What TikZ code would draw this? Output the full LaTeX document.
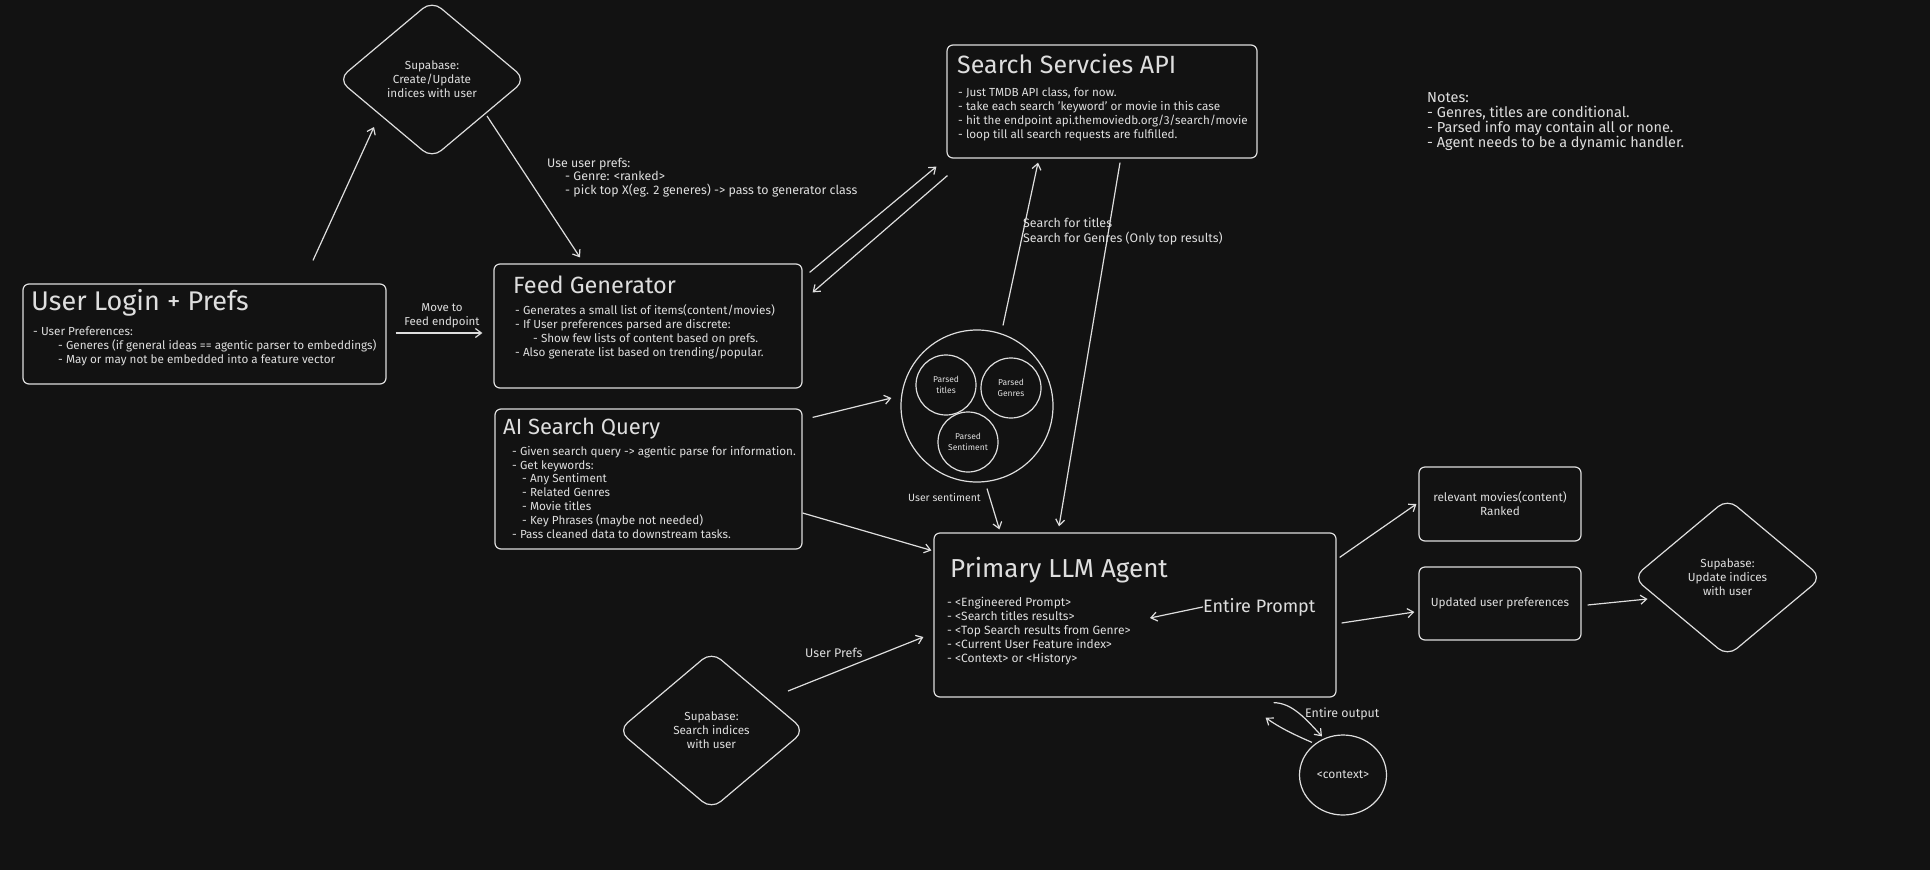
\documentclass[tikz,border=0pt]{standalone}
\usepackage{fontspec}
\setmainfont{Fira Sans}
\usetikzlibrary{arrows.meta,shapes.geometric}

\definecolor{bgdark}{RGB}{18,18,18}
\definecolor{chalk}{RGB}{222,222,222}

\tikzset{
    box/.style={draw=chalk, line width=1.2pt, rounded corners=6pt, inner sep=0pt},
    dbase/.style={diamond, draw=chalk, line width=1.2pt, rounded corners=12pt, inner sep=0pt,
        align=center, text=chalk, font=\fontsize{11.7}{14}\selectfont},
    ring/.style={circle, draw=chalk, line width=1.2pt, inner sep=0pt, align=center, text=chalk},
    ttl/.style={font=\fontsize{24}{28}\selectfont, text=chalk, anchor=base west, inner sep=0pt},
    body/.style={font=\fontsize{11.7}{13.8}\selectfont, text=chalk, align=left, anchor=base west, inner sep=0pt},
    lbl/.style={font=\fontsize{11.5}{14}\selectfont, text=chalk, align=left, anchor=base west, inner sep=0pt},
    arr/.style={draw=chalk, line width=1.2pt, -{Straight Barb[length=6pt,width=9pt]}},
}

\begin{document}
\begin{tikzpicture}[x=1pt, y=-1pt]
    \fill[bgdark] (0,0) rectangle (1930,870);
    \useasboundingbox (0,0) rectangle (1930,870);

    % boxes
    \node[box, minimum width=363pt, minimum height=100pt] (login) at (204.5,334) {};
    \node[box, minimum width=308pt, minimum height=124pt] (feed) at (648,326) {};
    \node[box, minimum width=307pt, minimum height=140pt] (ai) at (648.5,479) {};
    \node[box, minimum width=310pt, minimum height=113pt] (search) at (1102,101.5) {};
    \node[box, minimum width=402pt, minimum height=164pt] (llm) at (1135,615) {};
    \node[box, minimum width=162pt, minimum height=74pt, align=center, text=chalk,
        font=\fontsize{11.8}{14}\selectfont] (relevant) at (1500,504) {relevant movies(content)\\Ranked};
    \node[box, minimum width=162pt, minimum height=73pt, text=chalk,
        font=\fontsize{11.8}{14}\selectfont] (updated) at (1500,603.5) {Updated user preferences};

    % diamonds
    \node[dbase, minimum width=188pt, minimum height=158pt] (supaTop) at (432,79.5) {Supabase:\\Create/Update\\indices with user};
    \node[dbase, minimum width=187pt, minimum height=158pt] (supaSearch) at (711.5,730.5) {Supabase:\\Search indices\\with user};
    \node[dbase, minimum width=189pt, minimum height=158pt] (supaUpdate) at (1727.5,577.5) {Supabase:\\Update indices\\with user};

    % parsed keywords
    \node[ring, minimum size=152pt] (parsed) at (977,406) {};
    \node[ring, minimum size=60pt, font=\fontsize{8.5}{10.5}\selectfont] (ptitles) at (946,385) {Parsed\\titles};
    \node[ring, minimum size=60pt, font=\fontsize{8.5}{10.5}\selectfont] (pgenres) at (1011,388) {Parsed\\Genres};
    \node[ring, minimum size=60pt, font=\fontsize{8.5}{10.5}\selectfont] (psent) at (968,442) {Parsed\\Sentiment};
    \node[ellipse, draw=chalk, line width=1.2pt, minimum width=87pt, minimum height=80pt,
        text=chalk, font=\fontsize{12}{14}\selectfont] (context) at (1343,775) {<context>};

    % Below nodes are the box texts (anchored on their last line).
        \node[ttl, font=\fontsize{27}{30}\selectfont] (loginT) at (31,310) {User Login + Prefs};
        \node[body] (loginB) at (33,363) {- User Preferences:\\
            \hspace*{25pt}- Generes (if general ideas == agentic parser to embeddings)\\
            \hspace*{25pt}- May or may not be embedded into a feature vector};
        \node[ttl, font=\fontsize{23.5}{28}\selectfont] (feedT) at (513,293) {Feed Generator};
        \node[body] (feedB) at (515,356) {- Generates a small list of items(content/movies)\\
            - If User preferences parsed are discrete:\\
            \hspace*{18pt}- Show few lists of content based on prefs.\\
            - Also generate list based on trending/popular.};
        \node[ttl, font=\fontsize{22}{26}\selectfont] (aiT) at (503,434) {AI Search Query};
        \node[body] (aiB) at (512,538) {- Given search query -> agentic parse for information.\\
            - Get keywords:\\
            \hspace*{10pt}- Any Sentiment\\
            \hspace*{10pt}- Related Genres\\
            \hspace*{10pt}- Movie titles\\
            \hspace*{10pt}- Key Phrases (maybe not needed)\\
            - Pass cleaned data to downstream tasks.};
        \node[ttl, font=\fontsize{25}{29}\selectfont] (searchT) at (957,73) {Search Servcies API};
        \node[body] (searchB) at (958,138) {- Just TMDB API class, for now.\\
            - take each search 'keyword' or movie in this case\\
            - hit the endpoint api.themoviedb.org/3/search/movie\\
            - loop till all search requests are fulfilled.};
        \node[ttl, font=\fontsize{26}{30}\selectfont] (llmT) at (950,577) {Primary LLM Agent};
        \node[body, font=\fontsize{12}{14}\selectfont] (llmB) at (947,662) {- <Engineered Prompt>\\
            - <Search titles results>\\
            - <Top Search results from Genre>\\
            - <Current User Feature index>\\
            - <Context> or <History>};
        \node[body, font=\fontsize{14.5}{14.7}\selectfont] (notes) at (1427,147) {Notes:\\
            - Genres, titles are conditional.\\
            - Parsed info may contain all or none.\\
            - Agent needs to be a dynamic handler.};

    % Below nodes are the connector labels.
        \node[lbl, align=center, anchor=base] (moveL) at (442,325) {Move to\\Feed endpoint};
        \node[lbl, font=\fontsize{12.4}{13.5}\selectfont] (prefsL) at (547,194) {Use user prefs:\\
            \hspace*{18pt}- Genre: <ranked>\\
            \hspace*{18pt}- pick top X(eg. 2 generes) -> pass to generator class};
        \node[lbl, font=\fontsize{12.4}{15}\selectfont] (searchL) at (1023,242) {Search for titles\\Search for Genres (Only top results)};
        \node[lbl, font=\fontsize{10.5}{14}\selectfont] (sentL) at (908,501) {User sentiment};
        \node[lbl, font=\fontsize{12.5}{14}\selectfont] (uprefsL) at (805,657) {User Prefs};
        \node[lbl, font=\fontsize{12.4}{14}\selectfont] (outL) at (1305,717) {Entire output};
        \node[ttl, font=\fontsize{18}{20}\selectfont] (prompt) at (1203,612) {Entire Prompt};

    % connectors
        \draw[arr] ([shift={(108.5,-23)}]login.north) -- ([shift={(-58,47.5)}]supaTop.center);
        \draw[arr] ([shift={(55,36.5)}]supaTop.center) -- ([shift={(-68,-6)}]feed.north);
        \draw[arr] ([shift={(9,-1)}]login.east) -- ([shift={(-11,7)}]feed.west);
        \draw[arr] ([shift={(7,9)}]feed.north east) -- ([shift={(-10,8)}]search.south west);
        \draw[arr] ([shift={(1,17)}]search.south west) -- ([shift={(10,29)}]feed.north east);
        \draw[arr] ([shift={(26,-4)}]parsed.north) -- ([shift={(-64,4)}]search.south);
        \draw[arr] ([shift={(18,4)}]search.south) -- ([shift={(-76,-6)}]llm.north);
        \draw[arr] ([shift={(10,9)}]ai.north east) -- ([shift={(-9,-8)}]parsed.west);
        \draw[arr] ([shift={(0,34)}]ai.east) -- ([shift={(-2,18)}]llm.north west);
        \draw[arr] ([shift={(10,6)}]parsed.south) -- ([shift={(66,-3)}]llm.north west);
        \draw[arr] ([shift={(76.5,-39.5)}]supaSearch.center) -- ([shift={(-10,22)}]llm.west);
        \draw[arr] (prompt.west) -- ([shift={(15,3)}]llm.center);
        \draw[arr] ([shift={(3,25)}]llm.north east) -- ([shift={(-2,0)}]relevant.west);
        \draw[arr] ([shift={(5,8)}]llm.east) -- ([shift={(-4,8.5)}]updated.west);
        \draw[arr] ([shift={(6,1.5)}]updated.east) -- ([shift={(-80,21.5)}]supaUpdate.center);
        \draw[arr] ([shift={(-63,5)}]llm.south east) .. controls (1292,703) and (1305,718) .. ([shift={(-21,2)}]context.north);
        \draw[arr] ([shift={(-31,8)}]context.north) .. controls (1295,735) and (1280,728) .. ([shift={(-71,20)}]llm.south east);
\end{tikzpicture}
\end{document}
